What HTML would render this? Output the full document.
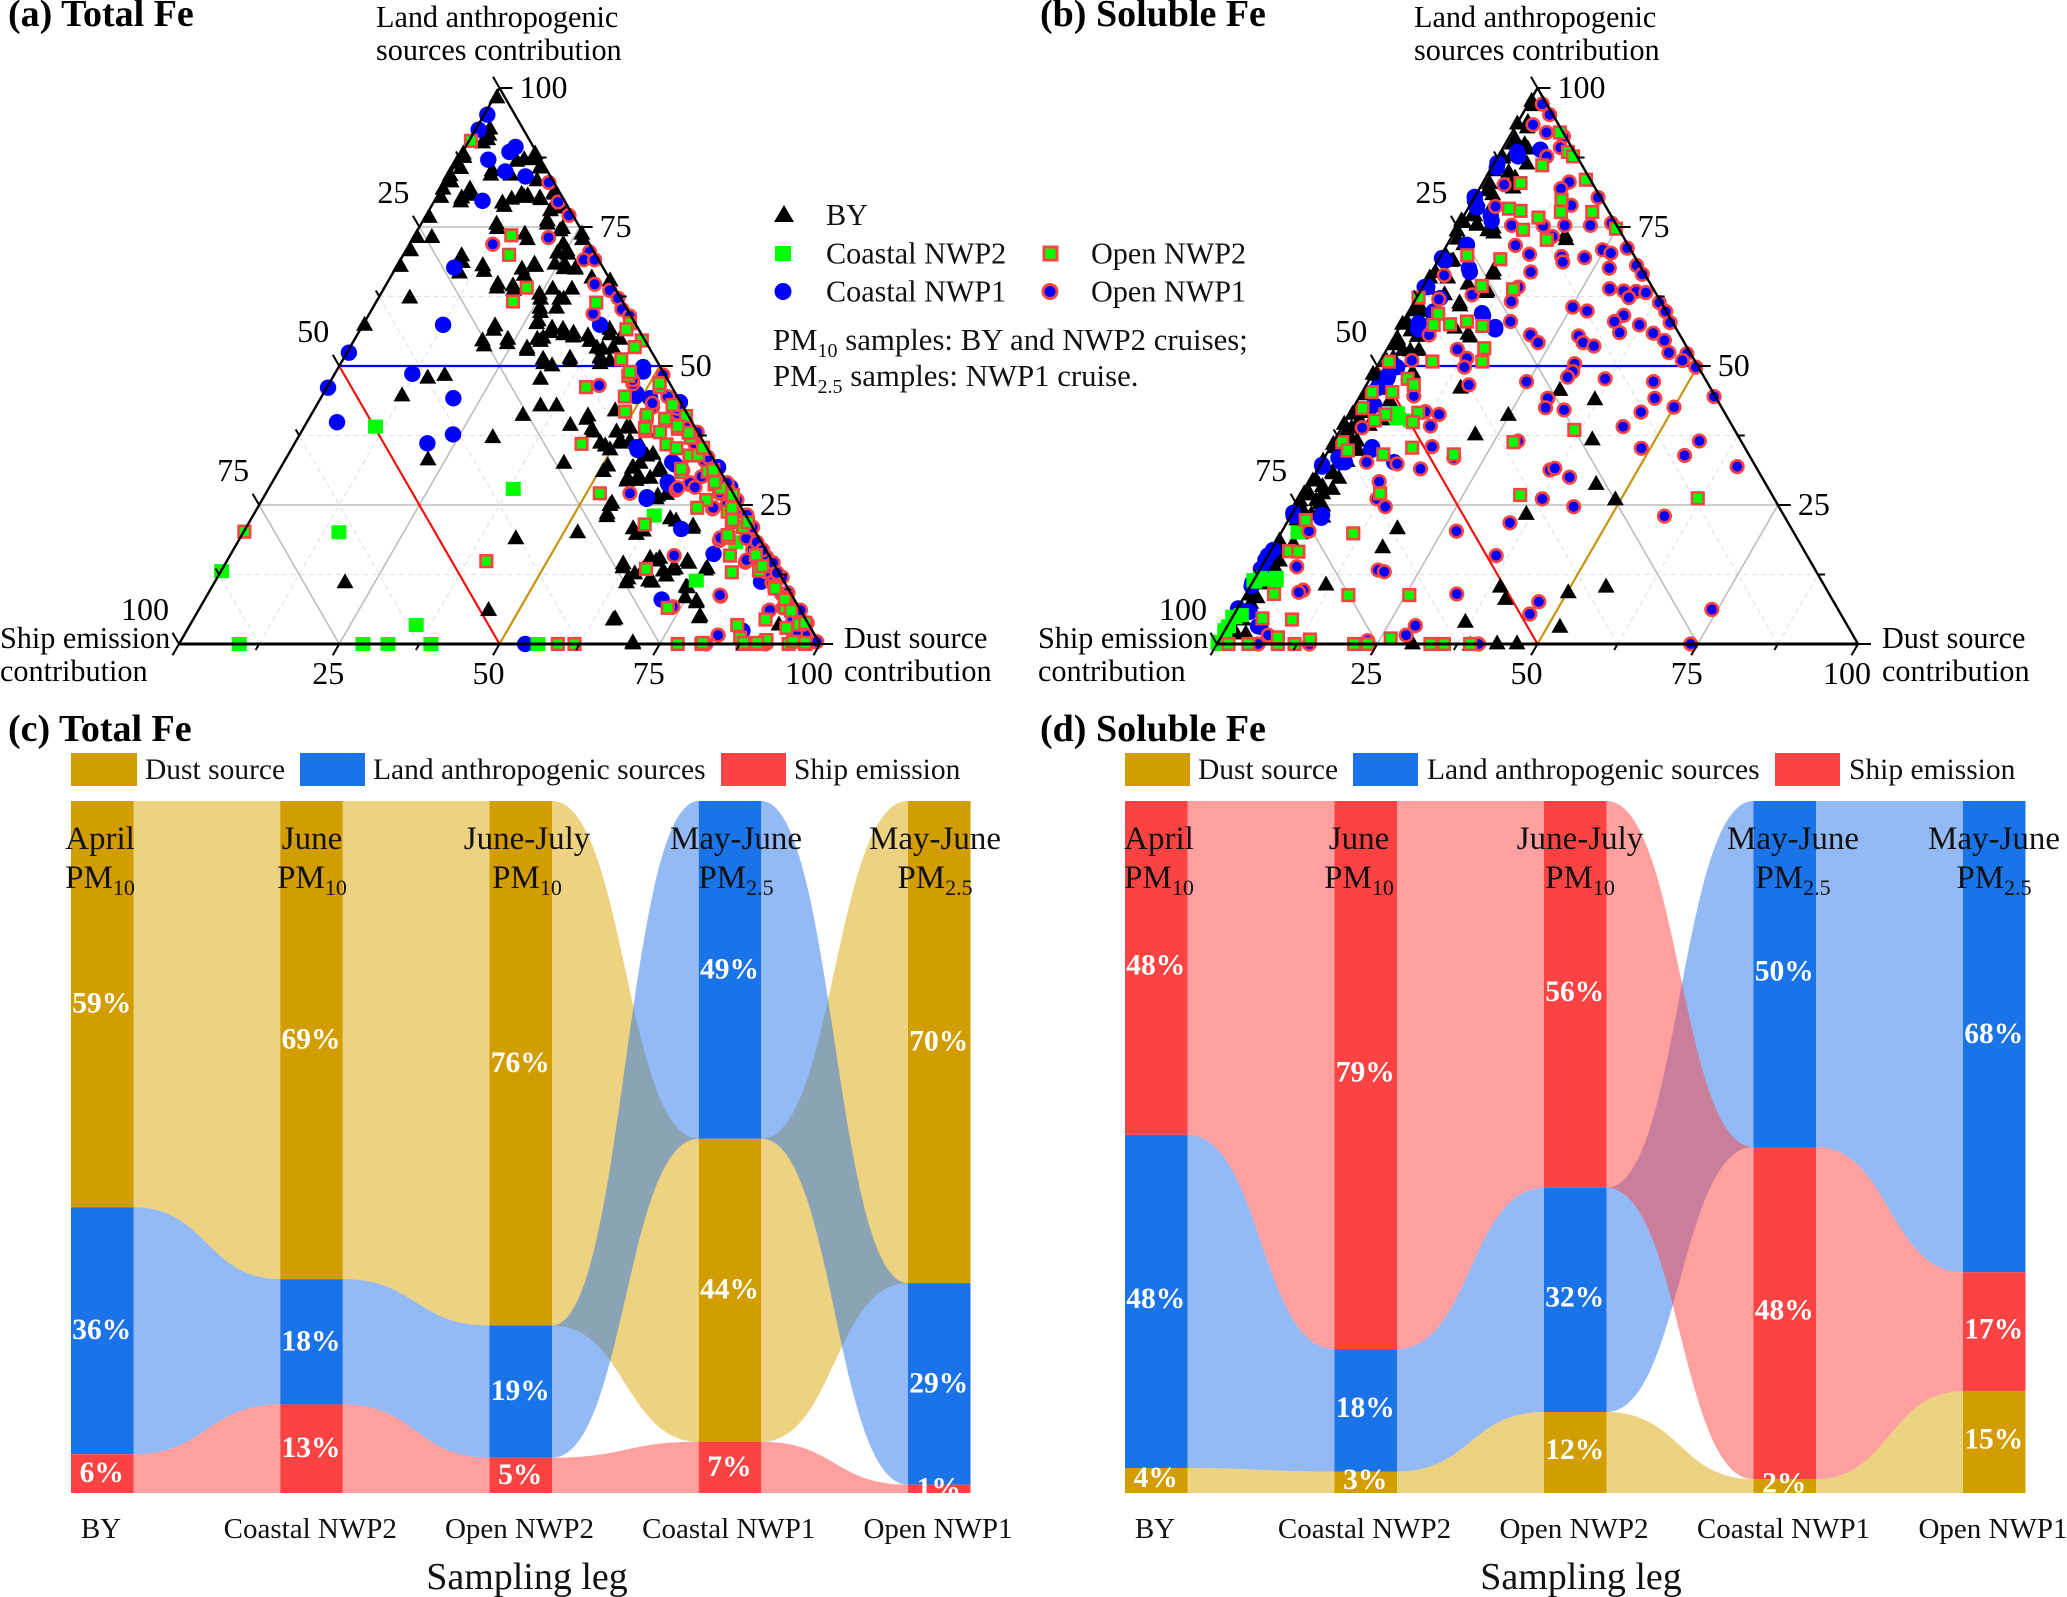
<!DOCTYPE html>
<html lang="en">
<head>
<meta charset="utf-8">
<title>Total and soluble Fe source contributions</title>
<style>
html,body{margin:0;padding:0;background:#fff;}
svg{display:block;font-family:"Liberation Serif","Times New Roman",serif;}
.title{font-size:38px;font-weight:bold;fill:#000;}
.t30{font-size:30.2px;fill:#000;}
.tick{font-size:32px;fill:#000;}
.leg{font-size:29.5px;fill:#111;}
.leg2{font-size:30.2px;fill:#111;}
.note{font-size:30.8px;fill:#111;}
.xl{font-size:29px;fill:#111;text-anchor:middle;}
.ax{font-size:38px;fill:#111;text-anchor:middle;}
.month{font-size:33px;fill:#111;text-anchor:middle;}
.pct{font-size:29.5px;font-weight:bold;fill:#fff;text-anchor:middle;}
</style>
</head>
<body>
<svg id="chart" xmlns="http://www.w3.org/2000/svg" width="2067" height="1597" viewBox="0 0 2067 1597">
<rect width="2067" height="1597" fill="#fff"/>
<g id="ternary-a"></g>
<g id="ternary-b"></g>
<g id="sankey-c"></g>
<g id="sankey-d"></g>

<text class="title" x="8" y="26">(a) Total Fe</text>
<text class="title" x="1040" y="26">(b) Soluble Fe</text>
<text class="title" x="8" y="741">(c) Total Fe</text>
<text class="title" x="1040" y="741">(d) Soluble Fe</text>

<text class="t30" x="376" y="27">Land anthropogenic</text>
<text class="t30" x="376" y="60">sources contribution</text>
<text class="t30" x="0" y="648">Ship emission</text>
<text class="t30" x="0" y="681">contribution</text>
<text class="t30" x="844" y="648">Dust source</text>
<text class="t30" x="844" y="681">contribution</text>

<text class="t30" x="1414" y="27">Land anthropogenic</text>
<text class="t30" x="1414" y="60">sources contribution</text>
<text class="t30" x="1038" y="648">Ship emission</text>
<text class="t30" x="1038" y="681">contribution</text>
<text class="t30" x="1882" y="648">Dust source</text>
<text class="t30" x="1882" y="681">contribution</text>

<g>
<polygon points="784,205 794,222 774,222" fill="#000"/>
<text class="leg2" x="826" y="225">BY</text>
<rect x="775" y="246" width="16" height="15" fill="#00ff00"/>
<text class="leg2" x="826" y="263.5">Coastal NWP2</text>
<circle cx="783" cy="291.5" r="8.5" fill="#0000ff"/>
<text class="leg2" x="826" y="301.5">Coastal NWP1</text>
<rect x="1044" y="247" width="13" height="13" fill="#00ff00" stroke="#fb4343" stroke-width="3"/>
<text class="leg2" x="1091" y="263.5">Open NWP2</text>
<circle cx="1050" cy="291.5" r="7" fill="#0000ff" stroke="#fb4343" stroke-width="3"/>
<text class="leg2" x="1091" y="301.5">Open NWP1</text>
<text class="note" x="773" y="350">PM<tspan dy="7" font-size="20">10</tspan><tspan dy="-7"> samples: BY and NWP2 cruises;</tspan></text>
<text class="note" x="773" y="386">PM<tspan dy="7" font-size="20">2.5</tspan><tspan dy="-7"> samples: NWP1 cruise.</tspan></text>
</g>

<g>
<rect x="71" y="753" width="66" height="33" fill="#d29d00"/>
<text class="leg" x="145" y="779">Dust source</text>
<rect x="300" y="753" width="65" height="33" fill="#1b73e8"/>
<text class="leg" x="373" y="779">Land anthropogenic sources</text>
<rect x="721" y="753" width="65" height="33" fill="#fb4343"/>
<text class="leg" x="794" y="779">Ship emission</text>
</g>
<g>
<rect x="1125" y="753" width="65" height="33" fill="#d29d00"/>
<text class="leg" x="1198" y="779">Dust source</text>
<rect x="1353" y="753" width="65" height="33" fill="#1b73e8"/>
<text class="leg" x="1427" y="779">Land anthropogenic sources</text>
<rect x="1775" y="753" width="65" height="33" fill="#fb4343"/>
<text class="leg" x="1849" y="779">Ship emission</text>
</g>

<text class="ax" x="527" y="1589">Sampling leg</text>
<text class="ax" x="1581" y="1589">Sampling leg</text>
</svg>

<script>
// ---------- ternary data: each point is [dust %, land %]; ship % is the remainder ----------
const ternaryTicks = [25, 50, 75, 100];
const aBY = [[0.4,98.4],[2.5,91.7],[0.6,87.7],[1.1,85.7],[0.8,83.3],[0.6,80.5],[0.6,76.9],[0.5,73.3],[0.7,70.9],[0.5,68.1],[2.8,73.3],[4.8,62.4],[0.2,57.5],[2.7,90.9],[10.2,87.3],[11.7,87.3],[6.4,84.5],[9.5,84.5],[5.1,80.9],[4.1,79.7],[11.3,78.9],[13.6,80.5],[16.4,80.1],[17.8,81.3],[19.6,75.7],[12.2,74.9],[17.9,72.9],[22.4,74.9],[26.5,72.9],[25.1,70.9],[26.2,67.7],[28,67.7],[21.6,68.1],[20.6,66.5],[14,67.2],[9.8,68.8],[17.5,64.2],[20.3,63.8],[25.3,62.2],[28.9,62.2],[28.6,60.6],[26.5,59.8],[26.9,57.8],[20.8,56.6],[20.7,53.8],[24.1,54.2],[29.8,56.2],[32.1,55.8],[33.8,55.4],[36.8,54.6],[27.8,53],[29.1,54.6],[39.3,55.8],[39.8,51.8],[41,53.4],[31.6,50.6],[35.5,51],[40.4,50.6],[32.5,47.8],[14.8,48],[17.2,48.5],[12.4,44.8],[34.9,43],[37.4,43],[33,41.3],[43.3,40.6],[41.3,39.5],[45.5,38.3],[30.3,37.3],[47.6,36.3],[49.1,38.3],[50.3,39.1],[43.7,32.7],[22.2,33.3],[55.6,32.7],[59.4,31.2],[50.6,31.2],[55.1,29.5],[56.5,29.6],[54.7,25.1],[55.2,23.1],[61.3,26.3],[52.1,20.2],[43,19.1],[61.4,19.9],[69.6,21],[66.4,22.3],[20.3,11.2],[62.3,13.9],[66.9,15.1],[65.6,13.5],[70.2,13.5],[75.4,13.5],[72.2,14.7],[64.2,11.2],[68.2,11.3],[69.8,12.4],[73.9,10.4],[76.9,7.6],[78.7,4.9],[45.2,6.2],[65.5,4.5],[70.7,0.2],[53.8,38.3],[54,35.9],[50.5,36.7],[49.7,35.1],[54.9,31.9],[56.8,34.3],[62.5,27.1],[91.8,3.6],
[11.4,88.3],[13.4,85.8],[14.1,83.5],[9.2,87],[11.8,80.2],[10.7,79.5],[12.9,81.1],[14,80.8],[16.1,80.4],[18.1,81.1],[18.9,78.1],[20.4,78.6],[19.3,76.3],[22.2,74.5],[25.9,73.9],[23.9,72.1],[23.8,70.5],[25.5,70.3],[24.4,68.5],[25.9,68.5],[28,67.6],[26.3,64],[29.3,64],[28.3,62.2],[24.7,63.1],[26,60.6],[26.9,58.3],[29.7,57],[31.5,56.8],[33.5,56.1],[36,55.6],[38.8,56.8],[41.3,55],[28.4,55],[29.2,55.2],[27.6,53.4],[38.5,53.4],[39.5,53.2],[39.9,51.6],[35.2,51.6],[31.1,51.4],[33.1,50.2],[41.7,51.1],[2.1,92.8],[2.2,90.3],[0.2,88.3],[0.1,86.7],[6.2,85.3],[0.1,84.4],[0.2,82],[4.4,82],[3.9,80.4],[11.7,75.7],[17,73.9],[13.3,68.2],[19.7,67.6],[21.2,68.5],[9.1,70],[10.3,66.9],[17.3,64.9],[19.8,64.6],[20.6,57.4],[20,54.7],[23.8,55],[34.5,65.5],[31.4,66],
[50.9,39],[47,42.1],[43.2,41.2],[45,38.8],[48.6,35.8],[52,36.7],[50.7,36.3],[56,34],[59.1,31.8],[50.8,32.2],[54.8,31.8],[56.9,30],[58.5,30],[55,30],[61.3,26.8],[54.8,25.5],[55,23.6],[60.4,20.9],[62.2,20.5],[65.3,22.7],[69.5,21.4],[65.7,15.6],[67.2,15.6],[62,14.6],[71.8,15.1],[75.5,13.8],[68.9,13.3],[70.6,13.7],[64.1,11.9],[67.5,11.5],[64.7,12.8],[74.2,10.3],[74.7,8.5],[76.8,7.9],[78.7,5.2],[65.7,4.7],[70.6,0.4]];
const aCoastalNWP1 = [[0.5,95.2],[0.5,92.5],[7.8,89.4],[7.3,88.5],[4.7,87.1],[8.4,85],[12,84.1],[7.5,79.7],[9.1,67.7],[12.5,57.4],[0.3,52.4],[0.2,46.1],[12.1,48.6],[4.7,39.9],[20.7,44.2],[23.9,37.7],[20.7,36.1],[37,57.4],[47.9,49],[54.1,34.9],[61.2,32.3],[62,28.7],[59.9,26.1],[68,20.7],[75.3,16.2],[71.3,8],[54,0],[85.2,11.2],[86.7,2.4],[49,44.6],[56.1,43],
[47.5,49.8],[48.8,45.1],[51.4,44.2],[53.7,35.4],[60.6,32.7],[61.7,29.1],[59.8,26.4],[56.4,43.5],[68.2,31.8],[71.9,28.2]];
const aCoastalNWP2 = [[9.4,0],[28.7,0],[32.6,0],[39.3,0],[35.3,3.4],[14.9,20.1],[0.1,13.1],[11.1,39.1],[38.2,27.9],[62.6,23.1],[75,11.4],[77.7,18.3],[56,0]];
const aOpenNWP1 = [[16.2,83],[19.4,79.5],[22.3,77.1],[21.1,73.1],[13,71.9],[28.8,70.5],[28.6,69.1],[30.3,69.1],[32.5,64.7],[35.4,63.6],[37.4,62.2],[39,60.2],[34.9,59.4],[40.8,59],[42.3,46.5],[47.4,46.8],[52.6,42.6],[56.4,41.8],[63,31.2],[66.5,30.1],[65.3,28.7],[63.7,27.7],[70.8,27.1],[71.7,27.9],[56.8,27.1],[71.1,24.3],[79.1,19.5],[75,18.6],[69.3,15.9],[81,14.7],[83.7,15.5],[80.2,8.6],[89,6],[94,4.4],[83.3,1.6],[82.2,0],[96.9,1.6],[99.1,0.4],[91.5,0],[95.2,2],[88.1,12],[54,44.5],[57,41.5],[59.5,39],[62.5,36],[65.5,33],[68.5,30],[73,25],[75,23.5],[79,19],[81,17],[83,15],[85,13],[87,11],[89.5,9],[91.5,7],[93.5,5],
[47,47.5],[51.3,48.4],[52.2,43.3],[56.5,42.4],[65.2,29],[63.8,28.1],[66.4,28.2],[70.7,27.3],[71.1,24.5],[74.9,19.1],[81,15.1],[81,18.3],[83.9,15.6],[85.4,14.6],[80,8.8],[73.7,6.7],[89.1,6.1],[91,6.5],[93.6,4.3],[83.3,1.6],[99.3,0.4],[77,23.2],[79,21],[82.6,16.9],[86.9,12.8],[90.4,9.2],[93.9,6.1],[96.1,3.8],[61.8,38.1],[65.7,33.6],[71,29],[74.1,25.9]];
const aOpenNWP2 = [[0.3,90.5],[15.1,73.5],[16.5,70],[22.2,64.1],[21.3,61.6],[34.4,61.4],[41.5,57.7],[41.5,56.6],[44.9,54.6],[44.4,53.4],[43.4,51.2],[46,48.2],[40.4,46.2],[47.3,44.5],[48.7,41.8],[51.9,46.2],[52.6,40.6],[55.8,40.1],[58.6,41],[53.6,38.3],[56,38.1],[58.5,38.7],[61.3,37.1],[44.8,36],[58.1,35.9],[60,35.2],[62.7,33.9],[64.2,35.1],[62.9,30.9],[67.8,30.8],[69.2,28.7],[69.3,25.9],[68.6,24.5],[73.7,23.8],[75.3,21.9],[52.1,27.1],[61.9,21.5],[76.2,19.1],[78,15.9],[79.8,12.9],[66.1,13.5],[83.9,13.2],[87.7,10.4],[90.4,8.4],[91.3,6.6],[89.3,4.4],[85.4,3.4],[73,6.5],[93.3,2.9],[40.5,14.9],[0.1,20.2],[59.1,0],[61.7,0],[77.8,0],[81.5,0],[87.9,0],[91.3,0.4],[95.1,0],[97.7,0],[90,0],[55.5,43],[60.5,38],[64,34],[67,31],[70.5,28],[74,24.5],[77.5,21],[82,16],[84,14],[88,10],[90.5,8],[92.5,6],[95,3.5],
[45.9,48.9],[51.5,46.9],[52.4,41.2],[53.3,38.8],[55.6,40.5],[58.2,39.2],[64.1,35.3],[62.6,31.5],[67.7,31.3],[69,29.1],[73,26.8],[75.2,22.3],[77.8,21.9],[75.8,19.6],[95.8,3.8],[87,1.1],[91.3,0.7],[95.6,0.4],[97.6,0.2],[90.1,0.2],[88,0.2],[81.6,0.2]];

const bBY = [[18,72.9],[6.1,74.1],[9.7,66.7],[7.4,61],[10.3,63.4],[11.8,55.4],[14.9,46.2],[30.6,45.8],[36.9,44.1],[24.8,41.3],[21.4,37.8],[40.1,36.9],[44.7,28.9],[49.1,26.1],[36.5,23.5],[17.7,20.9],[17.1,17.5],[11.6,10.8],[39,10.4],[40.9,8.2],[50.1,9.4],[55.5,10.4],[36.7,4.1],[51.9,3.2],[30.4,0.2],[39.5,0],[43.6,0.2],[46.7,0.2],[1.8,2],[0.8,97],[1.5,94],[1,91],[3,90],[2,88],[0.6,86],[3,85],[4.5,84],[1,83],[2.5,81],[0.6,80],[3.5,79],[1.2,77.5],[0.5,76],[2.8,75.5],[5,74.5],[1,73],[2.5,72],[0.7,70],[2,69],[0.6,67],[3,66],[1,64],[4,63],[0.6,61.5],[2,60],[4,59.5],[0.7,58],[2,56.5],[3.5,55.5],[0.8,54],[2.5,53],[5,53],[1,51],[3,50],[0.7,48.5],[2,47],[4,46],[0.8,45],[2.5,43.5],[0.7,42],[2,40.5],[4,39.5],[1,38.5],[2.5,37],[0.7,35.5],[2,34],[3.8,33],[1,32],[2.5,31],[0.8,29.5],[2.2,28.5],[4,28],[1,27],[2.5,26],[4,25],[1,24.5],[3,23.5],[5,23],[0.7,18],[1.5,17],[0.8,15],[2,14],[0.8,12.5],[2,11],[0.8,9],[1.5,7.5],[0.8,6],[1.8,4.5],[3.5,2],
[0.2,97.8],[0,93.7],[1.9,93],[1,90.1],[3.9,89.2],[0.8,87.6],[5.1,86.5],[0.5,85.3],[5.1,82.2],[1.3,81.7],[2.7,75.7],[5.6,75],[0.2,74.5],[0,76.3],[1.6,77.2],[2.3,69.1],[0.2,66],[6.7,64.9],[7.1,61.5],[0.6,60.1],[0.1,57.7],[0.7,55],[3.5,56.5],[11.2,55.9],[8.6,57],[10.3,63.7],[9.5,67.3],[17.5,73.6],[3.7,52.9],[1.7,51.6],[0,48.7],[0.4,41.5],[0,39.7],[3.5,36.7],[0.1,36.1],[0,33.1],[2.7,30.8],[0.2,29.5],[2.9,27.2],[0,27.2],[3.4,25.4],[0,25.9],[0.4,18.7],[2.8,18.2],[2.2,15.1],[0.9,13.8],[2,8.5],[1.3,5.6],[1.5,2.5],[1.3,47.5],[5,43.9],[6,49],[5.5,40.5],[3,41.8],[4.5,35],[1.5,39],[2,35.5],[4,30],[1.2,22.5],[2.2,21],[3,20]];
const bCoastalNWP1 = [[3.1,87.7],[0.8,85.7],[0.4,79.7],[1.3,78.5],[4.8,76.1],[1.1,68.9],[6,66.9],[0.7,64.2],[12,59],[15.1,56.6],[3.1,56.6],[3.9,59.8],[2.7,47.8],[3,43],[6.6,34.9],[3,32.7],[11.3,32.7],[0.5,31.9],[4.9,22.7],[0.4,23.1],[0,15.9],[0.1,13.5],[0.2,10.4],[4.8,3.2],[0.1,6.4],[6,88.9],
[2.6,88.5],[0.5,86.5],[0,80.4],[4.2,77],[3.1,71.8],[0.4,69.4],[5.5,67.6],[0.3,64.2],[3.7,62.2],[2.6,57.7],[11.6,59.5],[14.9,57],[3.2,49.8],[0.3,32.2],[2.2,33.5],[3.6,32.7],[4.8,23.2],[0.1,23.6],[6.5,35.4],[2,46],[2.5,48.4],[0.3,16.9],[0,15.1],[0,11],[2.2,5.8],[5.2,3.1]];
const bCoastalNWP2 = [[2.6,20.1],[0.3,11.2],[3.5,11.4],[7.8,40.6],[10.1,40.2],[0.4,4.8],[0.2,2],[1.1,11.6],[0.2,0],[0.2,3.2],[1.2,5.2],[0,11.5],[0.8,11.9],[3.3,11.9],[7.4,41.5],[0,4.9],[0,2.5],[0,0.4]];
const bOpenNWP1 = [[2.2,97.1],[4.3,95.2],[2.6,93.4],[8.4,91.3],[5.4,92],[7.6,87.7],[8.9,89.3],[13.4,83.1],[12.7,81.9],[3.5,82.6],[19.3,80.3],[4.1,78.7],[15.8,78.9],[8.3,75.3],[13.3,75.2],[16.6,75.3],[20.6,75.3],[23.7,75.7],[15.7,73.3],[10.7,71.7],[13.7,70.1],[18.9,69.7],[19.6,68.7],[22.6,69.5],[24.7,70.9],[26.3,70.3],[28.4,71.2],[27.4,67.6],[15.5,66.9],[31.4,68.1],[33.1,66.5],[2.3,66.3],[29.3,63.9],[31.7,63.5],[33.7,63.4],[33.1,62.3],[35.3,63.2],[8.4,62.8],[14.9,64.2],[15.1,61.6],[3.6,62],[38.3,61.4],[25.2,60.6],[27.8,59.9],[40.1,59.8],[33.9,59.1],[33,58],[41.8,57.8],[16.8,58],[37.2,57.4],[5.3,55.6],[34.8,56],[40.1,55.9],[21.1,55.6],[23,54.2],[28.7,55.4],[30,54.2],[32,53.6],[42.5,54.6],[11,53],[13.3,51.4],[44.3,52.4],[47.2,52.2],[47.1,51],[49.8,49.8],[4.9,51],[30.6,50.4],[13.7,49.8],[31,49],[30.7,48],[36.7,47.7],[24.7,47.2],[44.5,47.2],[16,46.6],[55.3,44.5],[8.4,44.6],[29.5,44.2],[46.2,44.2],[30,42.5],[33.1,42.1],[50,42.6],[45.3,41.7],[14,41.3],[11.6,41.8],[13.7,39.2],[43.8,39.1],[3.2,38.9],[28.7,36.5],[57,36.5],[15.8,35.5],[48.6,35.2],[56,33.9],[20.2,33.5],[7,32.7],[11.9,32.4],[16,31.5],[65.2,31.9],[36.3,31.3],[36.9,31.6],[40,30],[10.7,29.2],[11.9,26.1],[13.9,24.7],[37.7,26.1],[43.3,24.7],[58.3,23],[34.8,21.8],[27.2,20.3],[4.2,20.3],[35.6,15.9],[5.5,13.9],[18.5,13.3],[19.6,13],[8.6,9.7],[8.1,9.3],[32.9,9],[74.1,6.2],[46.4,7.6],[46.1,5.4],[29.3,3.3],[28.7,1.6],[23.2,0.6],[40.8,0],[73.9,0],[14.4,0],[6.4,0],[7.2,1.6]];
const bOpenNWP2 = [[7.5,92],[10.5,88.5],[11.7,87.7],[7.7,86.1],[15.8,83.5],[5.9,82.9],[13.8,79.9],[14.8,77.7],[6.4,78.3],[8.4,77.9],[19.7,77.7],[11.8,76.7],[10.5,74.5],[15.1,72.7],[24.9,74.7],[4.1,69.9],[9.6,69.2],[9.1,64.4],[14.3,63.8],[0.3,62.3],[4.8,59.4],[5.1,57.4],[7.6,57.5],[10,58],[12.8,57.2],[15.1,53.2],[16,50.8],[8.2,50.8],[1.4,50.8],[5.9,47.7],[7.4,46.6],[1.5,45.3],[4.7,45.3],[1.5,42.4],[5.6,41.3],[4.5,40.2],[10.6,41.6],[10.6,39.9],[36.5,38.5],[28.1,36.3],[1.4,36.3],[3,34.8],[8.9,34.1],[12.8,35.3],[19.9,34.1],[11.9,27.1],[33.9,26.8],[61.9,26.2],[2.7,22.3],[11.3,19.9],[2.9,16.7],[4.4,16.6],[4.4,9],[16.1,8.8],[25.6,8.8],[4.8,4.6],[9.5,4.4],[26.6,1],[14.1,0.8],[1.8,0],[4.9,0],[9.5,0],[12.1,0],[21.4,0],[23.5,0],[33.3,0],[35.4,0],[39.5,0],[8.9,1.2]];

// ---------- flow chart data ----------
const legNames = ["BY", "Coastal NWP2", "Open NWP2", "Coastal NWP1", "Open NWP1"];
const legMonths = ["April", "June", "June-July", "May-June", "May-June"];
const legPM = ["10", "10", "10", "2.5", "2.5"];
const cDust = [58.7, 69.1, 75.8, 43.8, 69.6];
const cLand = [35.7, 18.1, 19.1, 48.8, 29.1];
const cShip = [5.6, 12.8, 5.1, 7.4, 1.2];
const cDustLabels = [59, 69, 76, 44, 70];
const cLandLabels = [36, 18, 19, 49, 29];
const cShipLabels = [6, 13, 5, 7, 1];
const dDust = [3.6, 3.1, 11.7, 2, 14.7];
const dLand = [48.1, 17.7, 32.4, 50, 68.1];
const dShip = [48.2, 79.2, 55.9, 48, 17.2];
const dDustLabels = [4, 3, 12, 2, 15];
const dLandLabels = [48, 18, 32, 50, 68];
const dShipLabels = [48, 79, 56, 48, 17];

const SVGNS = "http://www.w3.org/2000/svg";
function mk(parent, tag, attrs, name) {
  const el = document.createElementNS(SVGNS, tag);
  for (const k in attrs) el.setAttribute(k, attrs[k]);
  
  
  parent.appendChild(el);
  return el;
}

function drawTernary(g, left, tag, sets) {
  const W = 641, H = 556, base = 644;
  const px = (d, l) => left + (d + l / 2) / 100 * W;
  const py = (l) => base - l / 100 * H;
  const line = (d1, l1, d2, l2, stroke, sw, dash, name) => {
    const a = {x1: px(d1, l1), y1: py(l1), x2: px(d2, l2), y2: py(l2), stroke: stroke, 'stroke-width': sw};
    if (dash) a['stroke-dasharray'] = dash;
    return mk(g, 'line', a, name);
  };
  // grid
  for (let v = 12.5; v < 100; v += 12.5) {
    const major = (v % 25 === 0);
    const col = major ? '#bdbdbd' : '#e2e2e2';
    const sw = major ? 1.6 : 1.2;
    const dash = major ? null : '5 4';
    if (!(v === 50)) line(0, v, 100 - v, v, col, sw, dash, tag + '-grid-land-' + v);
    if (!(v === 50)) line(v, 0, v, 100 - v, col, sw, dash, tag + '-grid-dust-' + v);
    if (!(v === 50)) line(100 - v, 0, 0, 100 - v, col, sw, dash, tag + '-grid-ship-' + v);
  }
  // threshold lines
  line(0, 50, 50, 50, '#0000ff', 2.2, null, tag + '-land-50-line');
  line(0, 50, 50, 0, '#f41010', 2.2, null, tag + '-ship-50-line');
  line(50, 50, 50, 0, '#c8930f', 2.2, null, tag + '-dust-50-line');
  // markers sit under the axes on the black strip but above the grid
  sets.by.forEach(p => {
    const x = px(p[0], p[1]), y = py(p[1]);
    mk(g, 'polygon', {points: `${x},${y - 8.5} ${x + 8.5},${y + 6.5} ${x - 8.5},${y + 6.5}`, fill: '#000'}, tag + '-point-by');
  });
  sets.c1.forEach(p => {
    mk(g, 'circle', {cx: px(p[0], p[1]), cy: py(p[1]), r: 8.2, fill: '#0000ff'}, tag + '-point-coastal-nwp1');
  });
  sets.c2.forEach(p => {
    mk(g, 'rect', {x: px(p[0], p[1]) - 7.5, y: py(p[1]) - 7, width: 15, height: 14, fill: '#00ff00'}, tag + '-point-coastal-nwp2');
  });
  sets.o1.forEach(p => {
    mk(g, 'circle', {cx: px(p[0], p[1]), cy: py(p[1]), r: 6.3, fill: '#0000ff', stroke: '#fb4343', 'stroke-width': 2.6}, tag + '-point-open-nwp1');
  });
  sets.o2.forEach(p => {
    mk(g, 'rect', {x: px(p[0], p[1]) - 5.8, y: py(p[1]) - 5.8, width: 11.6, height: 11.6, fill: '#00ff00', stroke: '#fb4343', 'stroke-width': 2.6}, tag + '-point-open-nwp2');
  });
  // axes
  line(0, 100, 100, 0, '#000', 2.4, null, tag + '-right-axis');
  line(0, 0, 0, 100, '#000', 2.4, null, tag + '-left-axis');
  line(0, 0, 100, 0, '#000', 3, null, tag + '-bottom-axis');
  // ticks
  for (let v = 0; v <= 100; v += 12.5) {
    const len = (v % 25 === 0) ? 13 : 7;
    const rx = px(100 - v, v), ry = py(v);
    mk(g, 'line', {x1: rx, y1: ry, x2: rx + len, y2: ry, stroke: '#000', 'stroke-width': 2}, tag + '-right-tick');
    const lx = px(0, 100 - v), ly = py(100 - v);
    mk(g, 'line', {x1: lx, y1: ly, x2: lx - len / 2, y2: ly - len * 0.866, stroke: '#000', 'stroke-width': 2}, tag + '-left-tick');
    const bx = px(v, 0), by = py(0);
    mk(g, 'line', {x1: bx, y1: by, x2: bx - len / 2, y2: by + len * 0.866, stroke: '#000', 'stroke-width': 2}, tag + '-bottom-tick');
  }
  // tick labels
  ternaryTicks.forEach(t => {
    const r = mk(g, 'text', {class: 'tick', x: px(100 - t, t) + 20, y: py(t) + 10}, tag + '-right-tick-label');
    r.textContent = t;
    const l = mk(g, 'text', {class: 'tick', x: px(0, 100 - t) - 10, y: py(100 - t) - 24, 'text-anchor': 'end'}, tag + '-left-tick-label');
    l.textContent = t;
    const b = mk(g, 'text', {class: 'tick', x: px(t, 0) - 11, y: py(0) + 40, 'text-anchor': 'middle'}, tag + '-bottom-tick-label');
    b.textContent = t;
  });
}

function drawSankey(g, tag, left, step, dust, land, ship, dustL, landL, shipL, monthX, labelShift) {
  const top = 801, bottom = 1493, barW = 62.5;
  const kinds = [
    {key: 'dust', vals: dust, labels: dustL, color: '#d29d00', flow: '#dba804'},
    {key: 'land', vals: land, labels: landL, color: '#1b73e8', flow: '#2775eb'},
    {key: 'ship', vals: ship, labels: shipL, color: '#fb4343', flow: '#ff4242'}
  ];
  const barX = i => left + i * step;
  // stack each leg with the largest source on top
  const stacks = legNames.map((_, i) => {
    const order = kinds.map(k => ({key: k.key, v: k.vals[i]})).sort((a, b) => b.v - a.v);
    const sum = order.reduce((s, o) => s + o.v, 0);
    let acc = 0;
    const res = {};
    order.forEach(o => {
      res[o.key] = {y0: top + acc / sum * (bottom - top), y1: top + (acc + o.v) / sum * (bottom - top)};
      acc += o.v;
    });
    return res;
  });
  kinds.forEach(k => {
    for (let i = 0; i < legNames.length - 1; i++) {
      const a = stacks[i][k.key], b = stacks[i + 1][k.key];
      const x1 = barX(i) + barW, x2 = barX(i + 1), m = (x1 + x2) / 2;
      const d = `M${x1},${a.y0}C${m},${a.y0} ${m},${b.y0} ${x2},${b.y0}L${x2},${b.y1}C${m},${b.y1} ${m},${a.y1} ${x1},${a.y1}Z`;
      mk(g, 'path', {d: d, fill: k.flow, 'fill-opacity': 0.5}, tag + '-flow-' + k.key);
    }
  });
  kinds.forEach(k => {
    legNames.forEach((_, i) => {
      const s = stacks[i][k.key];
      mk(g, 'rect', {x: barX(i), y: s.y0, width: barW, height: s.y1 - s.y0, fill: k.color}, tag + '-bar-' + k.key);
    });
  });
  kinds.forEach(k => {
    legNames.forEach((_, i) => {
      const s = stacks[i][k.key];
      const t = mk(g, 'text', {class: 'pct', x: barX(i) + barW / 2 - 0.5, y: (s.y0 + s.y1) / 2 + labelShift}, tag + '-label-' + k.key);
      t.textContent = k.labels[i] + '%';
    });
  });
  legNames.forEach((name, i) => {
    const mx = monthX(i);
    const m = mk(g, 'text', {class: 'month', x: mx, y: 849}, tag + '-month-label');
    m.textContent = legMonths[i];
    const pm = mk(g, 'text', {class: 'month', x: mx, y: 888}, tag + '-pm-label');
    pm.textContent = 'PM';
    const sub = document.createElementNS(SVGNS, 'tspan');
    sub.setAttribute('dy', '7');
    sub.setAttribute('font-size', '22');
    sub.textContent = legPM[i];
    pm.appendChild(sub);
    const xl = mk(g, 'text', {class: 'xl', x: barX(i) + 30, y: 1538}, tag + '-x-tick-label');
    xl.textContent = name;
  });
}

drawTernary(document.getElementById('ternary-a'), 179, 'a', {by: aBY, c1: aCoastalNWP1, c2: aCoastalNWP2, o1: aOpenNWP1, o2: aOpenNWP2});
drawTernary(document.getElementById('ternary-b'), 1217, 'b', {by: bBY, c1: bCoastalNWP1, c2: bCoastalNWP2, o1: bOpenNWP1, o2: bOpenNWP2});
drawSankey(document.getElementById('sankey-c'), 'c', 71, 209.25, cDust, cLand, cShip, cDustLabels, cLandLabels, cShipLabels,
  i => [100, 312, 527, 736, 935][i], 8.5);
drawSankey(document.getElementById('sankey-d'), 'd', 1125, 209.5, dDust, dLand, dShip, dDustLabels, dLandLabels, dShipLabels,
  i => [1159, 1359, 1580, 1793, 1994][i], 6.5);
</script>
</body>
</html>
